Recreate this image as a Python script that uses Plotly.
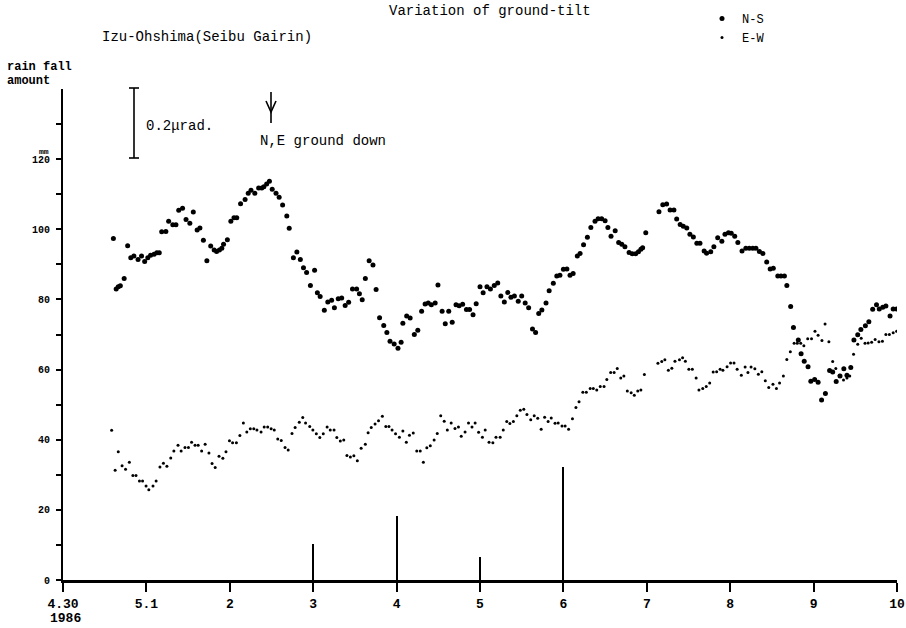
import plotly.graph_objects as go

# ---------------- data (hours since 1986-04-30 00:00) ----------------
ns_hours = [14.5, 15.3, 15.9, 16.5, 17.6, 18.6, 19.5, 20.4, 21.6, 22.6, 23.5, 24.4, 25.2, 26.2, 27.0, 27.7,
            28.4, 29.6, 30.4, 31.6, 32.5, 33.3, 34.4, 35.4, 36.5, 37.5, 38.6, 39.4, 40.4, 41.4, 42.5, 43.5,
            44.2, 45.0, 45.7, 46.2, 47.3, 48.3, 49.2, 50.0, 51.1, 52.4, 53.3, 54.1, 55.2, 56.3, 57.2, 57.8,
            58.6, 59.4, 60.2, 61.3, 62.2, 63.2, 64.4, 65.1, 66.3, 67.3, 68.3, 69.2, 70.1, 71.2, 72.4, 73.2,
            74.0, 75.2, 76.2, 77.3, 78.1, 79.2, 80.2, 81.2, 82.2, 83.3, 84.5, 85.3, 86.1, 87.0, 88.1, 89.2,
            90.1, 91.1, 92.3, 93.2, 94.1, 95.3, 96.4, 97.3, 97.8, 98.9, 99.9, 101.1, 102.1, 103.2, 104.2, 105.1,
            106.0, 107.1, 107.9, 109.1, 110.0, 111.0, 112.0, 113.1, 114.0, 115.0, 116.1, 117.0, 118.0, 118.9,
            120.0, 120.9, 122.0, 123.0, 124.1, 125.1, 126.0, 127.0, 128.0, 128.9, 129.9, 131.0, 132.0, 133.0,
            134.0, 135.1, 136.0, 136.9, 137.8, 139.0, 139.9, 141.1, 142.1, 143.0, 144.0, 145.0, 145.9, 146.8,
            148.0, 148.8, 149.8, 150.9, 151.9, 153.1, 154.0, 155.0, 156.0, 156.8, 157.7, 158.9, 159.9, 160.8,
            161.7, 162.9, 163.8, 164.8, 165.6, 166.3, 166.8, 167.7, 171.5, 172.6, 173.7, 174.7, 175.8, 176.6,
            177.6, 178.5, 179.5, 180.4, 181.4, 182.4, 183.3, 184.5, 185.2, 186.4, 187.3, 188.4, 189.6, 190.5,
            191.5, 192.3, 193.3, 194.2, 195.4, 196.5, 197.5, 198.5, 199.4, 200.4, 201.4, 202.5, 203.5, 204.4,
            205.7, 206.6, 207.6, 208.3, 209.4, 210.2, 211.6, 212.4, 213.3, 214.4, 215.2, 216.3, 217.3, 218.3,
            219.4, 220.6, 221.5, 222.5, 223.6, 224.7, 225.6, 226.7, 227.6, 228.7, 229.6, 230.9, 231.9, 233.0,
            234.1, 234.9, 235.9, 236.8, 238.0, 238.9, 239.9]
ns_values = [97.4, 83.0, 83.6, 83.9, 86.0, 95.3, 91.9, 92.4, 91.4, 92.4, 90.8, 91.9, 92.6, 92.9, 93.3, 93.3,
             99.3, 99.4, 102.3, 101.3, 101.3, 105.4, 106.0, 102.8, 101.7, 104.9, 99.8, 100.4, 96.9, 91.0, 95.2, 94.1,
             93.7, 94.1, 94.6, 95.7, 97.0, 102.3, 103.3, 103.3, 107.3, 108.5, 110.3, 111.1, 110.3, 111.8, 111.8, 112.1,
             112.9, 113.7, 111.4, 110.3, 109.1, 106.9, 103.8, 100.3, 91.9, 93.5, 91.4, 89.0, 87.7, 84.0, 88.3, 81.9,
             80.8, 76.9, 79.3, 79.8, 77.6, 80.2, 80.4, 78.3, 79.2, 83.0, 83.0, 81.6, 79.9, 86.0, 91.0, 89.8,
             82.8, 74.8, 72.6, 70.6, 68.1, 67.3, 66.1, 67.8, 73.2, 75.3, 74.7, 70.0, 71.2, 76.6, 78.7, 79.0,
             78.5, 79.0, 84.1, 76.6, 73.1, 76.6, 73.5, 78.5, 78.2, 78.6, 77.1, 77.1, 75.6, 78.8,
             83.6, 81.9, 83.6, 83.0, 84.0, 84.7, 81.0, 79.3, 82.0, 80.6, 81.0, 79.5, 81.0, 79.0,
             77.6, 71.6, 70.6, 76.0, 77.0, 79.0, 82.5, 84.6, 86.7, 86.9, 88.6, 88.7, 86.9, 87.4,
             92.4, 93.1, 95.6, 97.7, 100.5, 102.3, 103.0, 103.0, 102.4, 100.5, 98.0, 99.6, 96.2, 95.7,
             95.0, 93.4, 93.0, 93.0, 93.6, 94.3, 94.7, 99.0, 105.0, 107.0, 107.2, 105.5, 105.5, 102.9,
             101.4, 100.9, 100.4, 98.6, 97.8, 96.0, 96.0, 93.8, 93.2, 93.6, 95.0, 97.6, 96.6, 98.6,
             99.0, 98.9, 98.0, 96.2, 93.8, 94.6, 94.6, 94.6, 94.6, 93.7, 93.1, 90.7, 88.7, 88.9,
             86.7, 86.7, 86.7, 84.0, 78.0, 72.0, 68.4, 64.5, 62.4, 60.8, 56.7, 57.2, 56.4, 51.3,
             53.2, 59.7, 59.3, 56.6, 58.2, 60.2, 58.4, 60.6, 68.4, 69.9, 71.4, 72.5, 73.6, 77.2,
             78.5, 77.3, 77.8, 78.1, 75.3, 77.3, 77.3]

ew_hours = [14.0, 15.0, 15.9, 17.0, 18.0, 19.1, 20.1, 21.0, 22.0, 22.9, 23.9, 24.7, 25.9, 26.8, 27.9, 28.9,
            29.9, 31.0, 31.9, 33.1, 34.0, 35.1, 36.1, 37.0, 38.0, 38.9, 39.9, 40.9, 42.0, 42.9, 43.8, 44.9,
            46.0, 46.9, 47.9, 48.8, 49.9, 50.9, 51.9, 52.9, 53.9, 54.9, 55.8, 57.0, 57.9, 58.9, 59.9, 60.8,
            61.8, 62.8, 63.9, 64.8, 65.9, 66.8, 68.0, 69.0, 69.8, 71.0, 71.9, 72.9, 73.9, 74.9, 76.0, 76.9,
            78.0, 78.8, 79.8, 80.8, 81.7, 82.7, 83.7, 84.7, 85.8, 87.0, 87.8, 88.7, 89.8, 90.8, 91.9, 92.9,
            93.8, 94.7, 95.7, 96.8, 97.8, 98.8, 99.7, 100.8, 101.8, 102.8, 103.7, 104.7, 105.7, 106.8, 107.7, 108.7,
            109.7, 110.6, 111.7, 112.8, 113.8, 114.6, 115.7, 116.7, 117.7, 118.6, 119.6, 120.7, 121.5, 122.6,
            123.7, 124.6, 125.8, 126.7, 127.7, 128.6, 129.6, 130.6, 131.6, 132.6, 133.5, 134.6, 135.6, 136.6,
            137.6, 138.6, 139.6, 140.5, 141.6, 142.5, 143.6, 144.5, 145.5, 146.6, 147.6, 148.5, 149.6, 150.6,
            151.7, 152.6, 153.6, 154.6, 155.7, 156.5, 157.6, 158.6, 159.5, 160.5, 161.4, 162.4, 163.5, 164.4,
            165.4, 166.3, 167.3, 171.2, 172.3, 173.2, 174.2, 175.2, 176.1, 177.4, 178.3, 179.1, 180.1, 181.1,
            182.2, 183.0, 184.1, 185.1, 186.1, 187.1, 188.1, 189.1, 189.9, 191.1, 192.1, 193.1, 194.0, 195.2,
            196.3, 197.1, 198.0, 199.1, 200.1, 201.1, 202.1, 203.1, 204.3, 205.3, 206.2, 207.3, 208.3, 209.3,
            210.4, 211.3, 212.3, 213.2, 214.3, 215.4, 216.4, 217.3, 218.4, 219.3, 220.4, 221.5, 222.4, 223.4,
            224.6, 225.6, 226.4, 227.5, 228.7, 229.7, 230.8, 231.7, 232.7, 233.7, 234.8, 235.8, 236.8, 237.8,
            238.9, 239.9]
ew_values = [42.7, 31.3, 36.6, 32.6, 31.6, 33.6, 29.8, 29.8, 28.2, 28.2, 26.8, 25.7, 26.8, 28.2, 32.2, 33.3,
             32.4, 34.8, 36.8, 38.4, 36.8, 37.8, 37.8, 39.3, 38.4, 38.4, 36.8, 38.7, 36.2, 33.2, 32.1, 35.3,
             34.7, 36.6, 39.7, 39.1, 39.1, 41.2, 44.8, 42.2, 43.1, 43.1, 42.8, 42.2, 43.6, 43.6, 43.1, 42.8,
             40.2, 39.8, 37.8, 37.1, 41.8, 43.5, 45.0, 46.3, 44.8, 43.8, 42.8, 41.7, 40.6, 41.7, 43.6, 42.8,
             42.8, 40.6, 39.6, 39.9, 35.5, 35.1, 35.4, 34.0, 37.6, 38.7, 42.0, 43.5, 44.5, 45.4, 46.7, 43.8,
             43.8, 42.8, 41.7, 40.7, 42.5, 39.3, 41.3, 41.9, 36.8, 36.8, 33.6, 37.7, 38.3, 39.9, 41.8, 46.8,
             45.3, 42.8, 44.8, 43.2, 43.6, 41.0, 42.2, 44.8, 43.6, 44.8, 42.1, 40.7, 42.8, 39.3,
             39.1, 40.7, 40.7, 42.8, 45.2, 44.6, 45.2, 46.8, 48.4, 48.7, 47.2, 45.7, 46.8, 46.1,
             43.0, 46.4, 45.2, 46.2, 44.7, 44.8, 43.9, 43.9, 43.0, 46.0, 49.2, 50.8, 53.5, 53.5,
             54.6, 54.6, 54.2, 55.2, 55.2, 57.2, 59.2, 59.2, 60.3, 57.6, 58.2, 53.9, 53.4, 52.7,
             53.9, 54.2, 58.6, 61.8, 62.3, 62.8, 59.8, 60.4, 62.4, 62.8, 63.4, 62.4, 60.1, 60.1,
             57.6, 54.2, 54.6, 55.2, 56.2, 59.3, 59.4, 60.1, 59.8, 60.8, 61.9, 61.9, 60.1, 58.4,
             60.7, 59.2, 60.7, 60.2, 58.7, 59.4, 56.8, 54.9, 55.8, 54.6, 56.2, 58.2, 62.9, 65.1,
             67.5, 67.5, 67.5, 66.8, 68.8, 68.8, 70.9, 69.8, 68.3, 73.0, 67.9, 62.3, 60.3, 58.4,
             57.0, 57.6, 58.2, 64.4, 67.2, 68.9, 67.5, 67.6, 67.8, 68.6, 67.9, 68.1, 70.0, 70.0,
             70.5, 70.9]

rain_hours = [72, 96, 120, 144]
rain_mm = [10.4, 18.3, 6.6, 32.2]

tick_hours = [0, 24, 48, 72, 96, 120, 144, 168, 192, 216, 240]
tick_labels = ["4.30", "5.1", "2", "3", "4", "5", "6", "7", "8", "9", "10"]
year_label = "1986"
y_tickvals = list(range(0, 140, 10))
y_ticktext = [str(v) if v % 20 == 0 else "" for v in y_tickvals]

# ---------------- figure ----------------
W, H = 906, 628
L, R, T, B = 63, 9, 89, 48
PW, PH = W - L - R, H - T - B


def px(x):
    return (x - L) / PW


def py(y):
    return (H - B - y) / PH


MONO = "Liberation Mono"

fig = go.Figure()
fig.add_trace(go.Bar(x=rain_hours, y=rain_mm, width=0.6, marker=dict(color="black", line=dict(width=0)),
                     showlegend=False, hoverinfo="x+y"))
fig.add_trace(go.Scatter(x=ns_hours, y=ns_values, mode="markers", name="N-S",
                         marker=dict(color="black", size=5, line=dict(width=0))))
fig.add_trace(go.Scatter(x=ew_hours, y=ew_values, mode="markers", name="E-W",
                         marker=dict(color="black", size=3, line=dict(width=0))))

annotations = [
    dict(text="Variation of ground-tilt", x=px(490), y=py(11), xanchor="center", font=dict(size=14)),
    dict(text="Izu-Ohshima(Seibu Gairin)", x=px(207), y=py(37), xanchor="center", font=dict(size=14)),
    dict(text="rain fall", x=px(5), y=py(67), xanchor="left", font=dict(size=12, weight="bold")),
    dict(text="amount", x=px(5), y=py(81), xanchor="left", font=dict(size=12, weight="bold")),
    dict(text="mm", x=px(37), y=py(151), xanchor="left", font=dict(size=8, weight="bold")),
    dict(text="0.2μrad.", x=px(144), y=py(126), xanchor="left", font=dict(size=14)),
    dict(text="N,E ground down", x=px(323), y=py(141), xanchor="center", font=dict(size=14)),
    dict(text=year_label, x=px(65), y=py(618), xanchor="center", font=dict(size=13, weight="bold")),
]
for a in annotations:
    a.update(xref="paper", yref="paper", yanchor="middle", showarrow=False)
    a["font"] = dict(family=MONO, color="black", **a["font"])

shapes = [
    # 0.2 microradian scale bar
    dict(type="line", x0=px(134), x1=px(134), y0=py(88), y1=py(158)),
    dict(type="line", x0=px(129), x1=px(139), y0=py(88), y1=py(88)),
    dict(type="line", x0=px(129), x1=px(139), y0=py(158), y1=py(158)),
    # downward arrow
    dict(type="line", x0=px(271), x1=px(271), y0=py(92), y1=py(123)),
    dict(type="path", path=f"M {px(266)},{py(101)} L {px(271)},{py(112)} L {px(276)},{py(101)}",
         fillcolor="rgba(0,0,0,0)"),
]
for s in shapes:
    s.update(xref="paper", yref="paper", line=dict(color="black", width=1.6))

fig.update_layout(
    width=W, height=H,
    margin=dict(l=L, r=R, t=T, b=B, autoexpand=False),
    paper_bgcolor="white", plot_bgcolor="white",
    font=dict(family=MONO, color="black"),
    annotations=annotations, shapes=shapes,
    bargap=0,
    legend=dict(xref="container", yref="container", x=702 / W, y=1 - 4 / H, xanchor="left", yanchor="top",
                bgcolor="rgba(0,0,0,0)", font=dict(family=MONO, size=12), itemwidth=30, tracegroupgap=0),
    xaxis=dict(range=[0, 240], tickvals=tick_hours, ticktext=tick_labels, showgrid=False, zeroline=False,
               showline=True, linecolor="black", linewidth=2.5, ticks="outside", ticklen=9, tickwidth=1.5,
               tickcolor="black", tickfont=dict(family=MONO, size=13, weight="bold"), ticklabelstandoff=1,
               automargin=False),
    yaxis=dict(range=[0, 140], tickvals=y_tickvals, ticktext=y_ticktext, showgrid=False, zeroline=False,
               showline=True, linecolor="black", linewidth=2, ticks="outside", ticklen=5, tickwidth=1.5,
               tickcolor="black", tickfont=dict(family=MONO, size=10, weight="bold"), ticklabelstandoff=4,
               automargin=False),
)

fig.write_html("out.html", config={"displayModeBar": False},
               post_script="document.body.style.margin='0px';")
